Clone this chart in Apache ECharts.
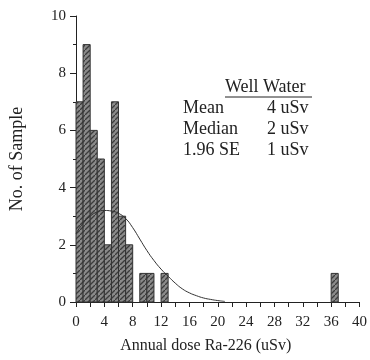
<!DOCTYPE html>
<html>
<head>
<meta charset="utf-8">
<script src="https://cdn.jsdelivr.net/npm/echarts@6/dist/echarts.min.js"></script>
<style>
  html, body { margin: 0; padding: 0; background: #fff; }
  #chart { width: 370px; height: 360px; }
</style>
</head>
<body>
<div id="chart"></div>
<script>
// histogram bins (width 1 uSv) and counts
const binStarts = [0, 1, 2, 3, 4, 5, 6, 7, 9, 10, 12, 36]
const binCounts = [7, 9, 6, 5, 2, 7, 3, 2, 1, 1, 1, 1]
const binWidth = 1

// fitted curve
const curveX = [0, 1, 2, 3, 4, 5, 6, 7, 8, 9, 10, 11, 12, 13, 14, 15, 16, 17, 18, 19, 20, 21]
const curveY = [2.4, 2.75, 3.0, 3.15, 3.2, 3.18, 3.1, 2.92, 2.6, 2.2, 1.8, 1.45, 1.15, 0.9, 0.66, 0.46, 0.32, 0.22, 0.14, 0.09, 0.05, 0.02]

const statLabels = ['Mean', 'Median', '1.96 SE']
const statValues = ['4 uSv', '2 uSv', '1 uSv']

const font = '"Liberation Serif", "DejaVu Serif", serif'

// hatched fill for the bars
const hatch = document.createElement('canvas')
hatch.width = 5
hatch.height = 5
const hc = hatch.getContext('2d')
hc.fillStyle = '#8a8a8a'
hc.fillRect(0, 0, 5, 5)
hc.strokeStyle = '#3c3c3c'
hc.lineWidth = 1.3
hc.beginPath()
hc.moveTo(-1, 6); hc.lineTo(6, -1)
hc.stroke()

const chart = echarts.init(document.getElementById('chart'))

const statText = []
statLabels.forEach((s, i) => {
  statText.push({ type: 'text', left: 183, top: 99 + i * 21, style: { text: s, font: '18px ' + font, fill: '#222' } })
  statText.push({ type: 'text', left: 267, top: 99 + i * 21, style: { text: statValues[i], font: '18px ' + font, fill: '#222' } })
})

chart.setOption({
  animation: false,
  grid: { left: 75, right: 9, top: 16, bottom: 58 },
  xAxis: {
    type: 'value',
    min: 0,
    max: 40,
    interval: 2,
    name: 'Annual dose Ra-226 (uSv)',
    nameLocation: 'middle',
    nameGap: 36,
    nameTextStyle: { fontFamily: font, fontSize: 16, color: '#222', padding: [0, 24, 0, 0] },
    axisLine: { lineStyle: { color: '#222', width: 1 } },
    axisTick: { length: 5, lineStyle: { color: '#222' } },
    axisLabel: {
      fontFamily: font, fontSize: 15, color: '#222', margin: 13,
      formatter: v => (v % 4 === 0 ? String(v) : '')
    },
    splitLine: { show: false }
  },
  yAxis: {
    type: 'value',
    min: 0,
    max: 10,
    interval: 2,
    name: 'No. of Sample',
    nameLocation: 'middle',
    nameGap: 50,
    nameTextStyle: { fontFamily: font, fontSize: 18, color: '#222' },
    axisLine: { show: true, lineStyle: { color: '#222', width: 1 } },
    axisTick: { show: true, length: 6, lineStyle: { color: '#222' } },
    minorTick: { show: true, splitNumber: 2, length: 3, lineStyle: { color: '#222' } },
    axisLabel: { fontFamily: font, fontSize: 15, color: '#222', margin: 10 },
    splitLine: { show: false }
  },
  graphic: [
    { type: 'text', left: 225, top: 78, style: { text: 'Well Water', font: '18px ' + font, fill: '#222' } },
    { type: 'line', shape: { x1: 225, y1: 97, x2: 312, y2: 97 }, style: { stroke: '#222', lineWidth: 1 } }
  ].concat(statText),
  series: [
    {
      type: 'custom',
      data: binStarts.map((s, i) => [s, binCounts[i]]),
      renderItem: (params, api) => {
        const p0 = api.coord([api.value(0), 0])
        const p1 = api.coord([api.value(0) + binWidth, api.value(1)])
        return {
          type: 'rect',
          shape: { x: p0[0], y: p1[1], width: p1[0] - p0[0], height: p0[1] - p1[1] },
          style: { fill: { image: hatch, repeat: 'repeat' }, stroke: '#333', lineWidth: 1 }
        }
      },
      z: 2
    },
    {
      type: 'line',
      data: curveX.map((x, i) => [x, curveY[i]]),
      smooth: true,
      showSymbol: false,
      lineStyle: { color: '#333', width: 1 },
      z: 3
    }
  ]
})
</script>
</body>
</html>
